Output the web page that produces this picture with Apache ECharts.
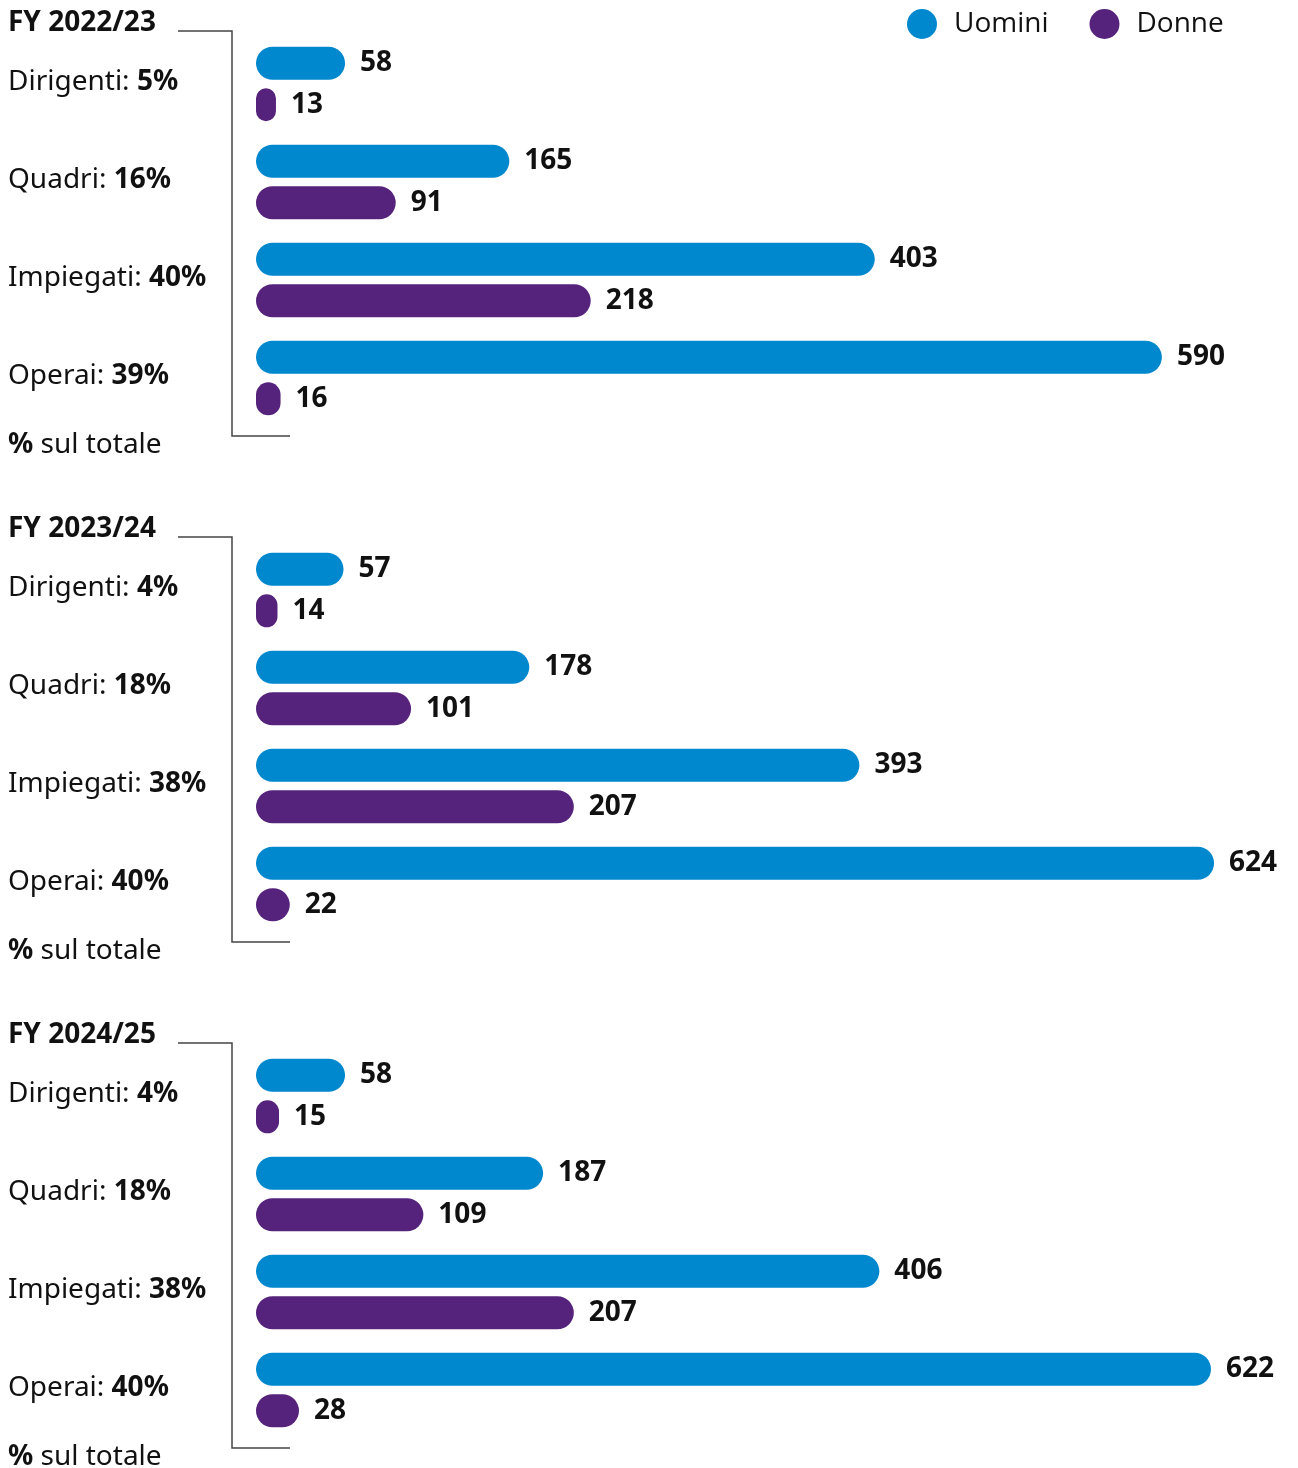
<!DOCTYPE html>
<html>
<head>
<meta charset="utf-8">
<script src="https://cdn.jsdelivr.net/npm/echarts@6/dist/echarts.min.js"></script>
<style>
  html, body { margin: 0; padding: 0; background: #fff; }
  #chart { width: 1298px; height: 1468px; }
</style>
</head>
<body>
<div id="chart"></div>
<script>
// Headcount by category and gender, three fiscal years
const years = ['FY 2022/23', 'FY 2023/24', 'FY 2024/25'];
const categories = ['Dirigenti', 'Quadri', 'Impiegati', 'Operai'];
const sharePct = [
  [5, 16, 40, 39],
  [4, 18, 38, 40],
  [4, 18, 38, 40]
];
const uomini = [
  [58, 165, 403, 590],
  [57, 178, 393, 624],
  [58, 187, 406, 622]
];
const donne = [
  [13, 91, 218, 16],
  [14, 101, 207, 22],
  [15, 109, 207, 28]
];
const seriesNames = ['Uomini', 'Donne'];
const footLabel = 'sul totale';

const BLUE = '#0088CE';
const PURPLE = '#56237C';
const FONT = '"Noto Sans", sans-serif';
const FS = 28;

const panelStep = 506;
const grids = [], xAxes = [], yAxes = [], series = [], graphics = [];

years.forEach((yr, i) => {
  const off = i * panelStep;
  grids.push({ left: 256, width: 998, top: 35 + off, height: 392 });
  xAxes.push({
    gridIndex: i, type: 'value', min: 0, max: 650, show: false
  });
  yAxes.push({
    gridIndex: i, type: 'category', inverse: true, data: categories,
    axisLine: { show: false }, axisTick: { show: false }, splitLine: { show: false },
    axisLabel: {
      align: 'left', margin: 248, verticalAlign: 'middle',
      formatter: (v, idx) => '{n|' + v + ': }{b|' + sharePct[i][idx] + '%}',
      rich: {
        n: { fontFamily: FONT, fontSize: FS, color: '#111', fontWeight: 'normal', padding: [0, 0, 4, 0] },
        b: { fontFamily: FONT, fontSize: FS, color: '#111', fontWeight: 'bold', padding: [0, 0, 4, 0] }
      }
    }
  });
  [uomini[i], donne[i]].forEach((vals, s) => {
    series.push({
      name: seriesNames[s], type: 'bar', xAxisIndex: i, yAxisIndex: i,
      data: vals, barWidth: 33, barGap: '26%',
      itemStyle: { color: s === 0 ? BLUE : PURPLE, borderRadius: 17 },
      label: {
        show: true, position: 'right', distance: 15,
        fontFamily: FONT, fontSize: FS, fontWeight: 'bold', color: '#111'
      },
      animation: false
    });
  });
  // year heading
  graphics.push({
    type: 'text', left: 8, top: 9 + off,
    style: { text: yr, fontFamily: FONT, fontSize: FS, fontWeight: 'bold', fill: '#111' }
  });
  // bracket
  graphics.push({
    type: 'polyline',
    shape: { points: [[178, 31 + off], [232, 31 + off], [232, 436 + off], [290, 436 + off]] },
    style: { stroke: '#444', lineWidth: 1.5, fill: null }
  });
  // footnote
  graphics.push({
    type: 'text', left: 8, top: 431 + off,
    style: {
      text: '{b|% }{n|' + footLabel + '}',
      rich: {
        b: { fontFamily: FONT, fontSize: FS, fontWeight: 'bold', fill: '#111' },
        n: { fontFamily: FONT, fontSize: FS, fontWeight: 'normal', fill: '#111' }
      }
    }
  });
});

const chart = echarts.init(document.getElementById('chart'), null, { renderer: 'canvas' });
chart.setOption({
  backgroundColor: '#fff',
  animation: false,
  legend: {
    data: seriesNames, left: 902, top: 4,
    icon: 'circle', itemWidth: 30, itemHeight: 30, itemGap: 41,
    textStyle: { fontFamily: '"Open Sans", sans-serif', fontSize: 28, color: '#111', padding: [0, 0, 0, 12] }
  },
  grid: grids,
  xAxis: xAxes,
  yAxis: yAxes,
  series: series,
  graphic: graphics
});
</script>
</body>
</html>
